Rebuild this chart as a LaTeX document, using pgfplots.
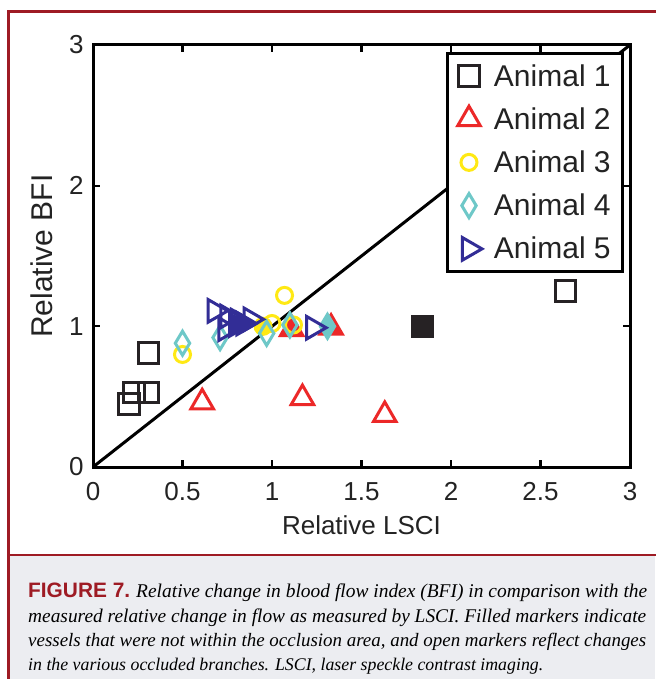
\documentclass[border=0pt]{standalone}
\usepackage{pgfplots}
\pgfplotsset{compat=1.18}
\usepackage{fontspec}
\setmainfont{Liberation Sans}
\newfontfamily\capserif{Liberation Serif}
\definecolor{framered}{RGB}{158,27,36}
\definecolor{capbg}{RGB}{236,237,241}
\definecolor{c1}{RGB}{38,34,36}
\definecolor{c2}{RGB}{236,40,40}
\definecolor{c3}{RGB}{255,233,20}
\definecolor{c4}{RGB}{110,200,200}
\definecolor{c5}{RGB}{50,45,150}
\definecolor{txt}{RGB}{35,35,35}
\begin{document}
\begin{tikzpicture}
\useasboundingbox (0pt,0pt) rectangle (655pt,-679pt);
\fill[white] (0pt,0pt) rectangle (655pt,-679pt);
\fill[capbg] (8pt,-555pt) rectangle (655pt,-679pt);
\draw[framered, line width=3pt] (656pt,-12pt) -- (8pt,-12pt) -- (8pt,-680pt);
\draw[framered, line width=2pt] (8pt,-555pt) -- (656pt,-555pt);
\begin{axis}[
  at={(93pt,-467pt)}, anchor=south west,
  scale only axis, width=537pt, height=422pt,
  xmin=0, xmax=3, ymin=0, ymax=3,
  xtick={0,0.5,1,1.5,2,2.5,3},
  xticklabels={0,0.5,1,1.5,2,2.5,3},
  ytick={0,1,2,3},
  yticklabels={0,1,2,3},
  tick align=inside,
  major tick length=7pt,
  every tick/.style={black, line width=2.2pt},
  axis line style={line width=3pt, black},
  tick label style={font=\fontsize{26}{26}\selectfont, text=txt},
  xticklabel style={yshift=-12pt},
  yticklabel style={xshift=-6pt},
  xlabel={Relative LSCI}, ylabel={Relative BFI},
  xlabel style={font=\fontsize{26}{26}\selectfont, text=txt,
    at={(axis description cs:0.5,0)}, anchor=north, inner sep=0pt, yshift=-48pt},
  ylabel style={font=\fontsize{30}{30}\selectfont, text=txt,
    at={(axis description cs:-0.0745,0.5)}, anchor=south, inner sep=0pt},
  legend style={at={(1,1)}, anchor=north east, xshift=-6pt, yshift=-7pt,
    draw=black, line width=2.6pt, fill=white,
    font=\fontsize{30}{32}\selectfont, text=txt,
    row sep=16pt, inner xsep=10pt, inner ysep=9pt,
    cells={anchor=west},
    /tikz/every odd column/.append style={column sep=10pt}},
  legend cell align=left,
]
% Animal 1
\addplot[only marks, mark=square, mark size=10.3pt, c1, mark options={line width=3pt}]
  coordinates {(0.31,0.81)(0.20,0.45)(0.23,0.53)(0.31,0.53)(2.64,1.25)};
\addlegendentry{Animal 1}
\addplot[only marks, mark=square*, mark size=10.3pt, c1, mark options={line width=3pt}, forget plot]
  coordinates {(1.84,1.00)};
% Animal 2
\addplot[only marks, mark=triangle, mark size=13pt, c2, mark options={line width=3pt}]
  coordinates {(0.61,0.46)(1.17,0.49)(1.63,0.37)};
\addlegendentry{Animal 2}
\addplot[only marks, mark=triangle*, mark size=13pt, c2, mark options={line width=3pt}, forget plot]
  coordinates {(1.11,0.98)(1.33,0.99)};
% Animal 3
\addplot[only marks, mark=o, mark size=8pt, c3, mark options={line width=3pt}]
  coordinates {(0.50,0.80)(1.07,1.22)(1.00,1.02)(1.12,1.01)};
\addlegendentry{Animal 3}
\addplot[only marks, mark=*, mark size=8pt, c3, mark options={line width=3pt}, forget plot]
  coordinates {(0.95,1.00)};
% Animal 4
\addplot[only marks, mark=diamond, mark size=12pt, c4, mark options={xscale=0.8, line width=3pt}]
  coordinates {(0.50,0.88)(0.71,0.92)(0.97,0.95)(1.10,1.01)};
\addlegendentry{Animal 4}
\addplot[only marks, mark=diamond*, mark size=12pt, c4, mark options={xscale=0.8, line width=3pt}, forget plot]
  coordinates {(1.31,1.00)};
% Animal 5
\addplot[only marks, mark=triangle, mark size=13pt, c5, mark options={rotate=-90, line width=3pt}]
  coordinates {(0.68,1.11)(0.75,1.07)(0.81,1.04)(0.88,1.05)(0.74,0.98)(1.23,0.99)};
\addlegendentry{Animal 5}
\addplot[only marks, mark=triangle*, mark size=13pt, c5, mark options={rotate=-90, line width=3pt}, forget plot]
  coordinates {(0.80,1.01)(0.84,1.02)};
% identity line
\addplot[black, line width=3pt, forget plot] coordinates {(0,0)(3,3)};
\end{axis}
\node[anchor=base west, inner sep=0pt] at (28pt,-597pt)
  {\resizebox{102pt}{!}{\fontsize{21}{21}\selectfont\bfseries\color{framered}FIGURE 7.}};
\node[anchor=base west, inner sep=0pt] at (136pt,-597pt)
  {\resizebox{511pt}{!}{\capserif\itshape\fontsize{20}{20}\selectfont Relative change in blood flow index (BFI) in comparison with the}};
\node[anchor=base west, inner sep=0pt] at (28pt,-622pt)
  {\resizebox{618pt}{!}{\capserif\itshape\fontsize{20}{20}\selectfont measured relative change in flow as measured by LSCI. Filled markers indicate}};
\node[anchor=base west, inner sep=0pt] at (28pt,-646pt)
  {\resizebox{618pt}{!}{\capserif\itshape\fontsize{20}{20}\selectfont vessels that were not within the occlusion area, and open markers reflect changes}};
\node[anchor=base west, inner sep=0pt] at (28pt,-670pt)
  {\resizebox{515pt}{!}{\capserif\itshape\fontsize{20}{20}\selectfont in the various occluded branches. LSCI, laser speckle contrast imaging.}};
\end{tikzpicture}
\end{document}
